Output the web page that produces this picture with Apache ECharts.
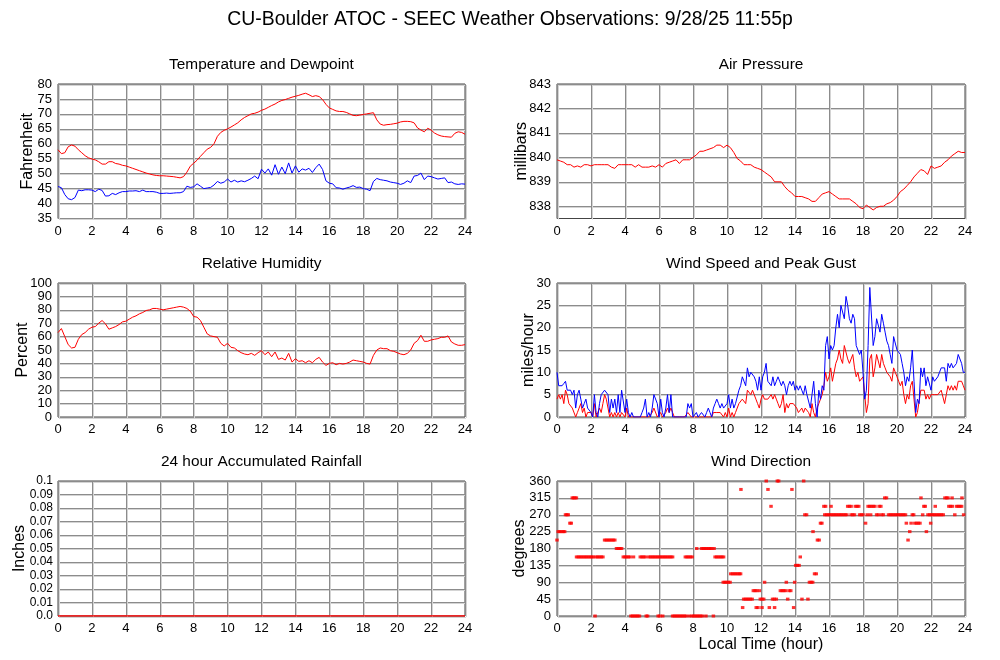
<!DOCTYPE html>
<html><head><meta charset="utf-8">
<script src="https://cdn.jsdelivr.net/npm/echarts@6/dist/echarts.min.js"></script>
<style>html,body{margin:0;padding:0;background:#fff}#c{width:1000px;height:660px}</style>
</head><body><div id="c"></div>
<script>
// ---------------- DATA ----------------
const xTicks = [0, 2, 4, 6, 8, 10, 12, 14, 16, 18, 20, 22, 24];

// Sampled every 0.2 hour (0 .. 24)
const temperatureF = [58,56.7,57,59,59.6,59.2,58,57,56,55.3,
 54.9,54.6,54,53.2,53.2,54,54,53.4,53.2,52.8,
 52.6,52.2,51.8,51.4,51,50.6,50.2,49.9,49.6,49.4,
 49.3,49.3,49.2,49.1,49,48.8,48.6,49,50.5,52.5,
 53.5,54.5,55.8,57,58.2,58.8,60,62.5,63.8,64.5,
 65,65.6,66.3,67,68,68.8,69.4,70,70.2,70.6,
 71.2,71.6,72.2,72.8,73.3,74,74.5,74.8,75.2,75.6,
 75.9,76.2,76.6,76.9,76.4,75.8,76.1,75.8,74.8,73.2,
 72,71.5,71,70.8,70.8,70.5,70,69.5,69.4,69.6,
 69.8,70,70.2,70.4,68,66.6,66.2,66.4,66.5,66.7,
 66.9,67.3,67.5,67.5,67.4,67,65.3,64.6,64,65.2,
 64.6,63.6,63,62.6,62.4,62.3,62.2,63.5,64,63.8,
 63.2];
const dewpointF = [45.7,45.3,43,41.6,41.3,42,44.5,44.3,44.6,44.6,
 44.5,44,44.8,44.4,42.5,42.6,43.4,43,43.6,44,
 44,44.2,44.2,44.3,44,44.5,44,44,44,43.8,
 43.4,43.4,43.5,43.4,43.5,43.6,43.6,44,45.8,45.4,
 45.6,46.6,45.8,45,45.2,45.4,46.2,47.4,46.8,47.2,
 48.2,47.2,47.8,47.2,47.6,47.3,47.8,48.4,49.2,48.3,
 51.5,50.2,51.6,49.5,53,49.8,52.2,50,53.6,50.2,
 52.6,50.5,51.6,51.2,51.8,50.4,52,53.2,51.4,47.6,
 46.8,46.6,45.3,45.2,44.8,45.2,45.5,46,45.4,45.5,
 45,44.8,44.3,47.4,48.4,48,47.8,47.6,47.2,47,
 46.8,46.4,46.8,47.6,47,49.2,49.4,50.2,48,49.2,
 49,48.6,48.2,48.4,48.6,47,47.2,46.6,46.4,46.6,
 46.5];
const pressureMb = [839.9,839.85,839.8,839.7,839.7,839.6,839.65,839.6,839.7,839.7,
 839.65,839.7,839.7,839.7,839.7,839.7,839.6,839.55,839.7,839.7,
 839.7,839.7,839.7,839.6,839.7,839.6,839.6,839.6,839.65,839.6,
 839.7,839.6,839.75,839.8,839.85,839.9,839.75,839.9,839.9,839.9,
 840,840.1,840.25,840.25,840.3,840.35,840.4,840.5,840.5,840.4,
 840.5,840.4,840.2,839.95,839.85,839.7,839.7,839.7,839.6,839.55,
 839.5,839.4,839.3,839.2,839,839,839,838.8,838.65,838.55,
 838.4,838.4,838.4,838.35,838.3,838.2,838.2,838.35,838.5,838.55,
 838.6,838.5,838.4,838.3,838.3,838.3,838.3,838.2,838.1,837.95,
 837.9,838.05,837.95,837.85,837.95,838,838,838.1,838.15,838.25,
 838.4,838.6,838.7,838.85,839,839.2,839.35,839.5,839.45,839.3,
 839.65,839.55,839.6,839.65,839.8,839.9,840.05,840.15,840.25,840.2,
 840.2];
const humidityPct = [63,66,60,54,51.5,52,58,61.5,63,65.5,
 67,67.5,70,72,69.5,65.5,66.5,67.5,69,71,
 71.5,73,74.5,75.5,77,78,79.5,80,81,81,
 80.5,80,80.5,81,81.5,82,82.5,82,81,79,
 75,74.5,72,67,62,60.5,60,59.5,55,53,
 55,52,51.5,49.5,48,47,46.5,47.5,46,48,
 49.5,46.5,48.5,45,48.5,43,44,42.5,47.5,41,
 43.5,41.5,42,40.5,42,40.5,43,44.5,41,38.5,
 40,40.5,39,40,39.5,40,41,42.5,42,41.5,
 41,40,39.5,46,50,51.5,51,51,49.5,49,
 48,47,46.5,47.5,50,55,57,61,56.5,56.5,
 57.5,58,58.5,59.5,59.5,60.5,56,54.5,53.5,53.5,
 54];

// Sampled every 0.1 hour (0 .. 24)
const gustMph = [10,7,7,7,7.5,8,6,6,6,5,
 6,2,5,6,4,2,3,4,2,2,
 1,0,5,1,0,3,5,5,6,6,
 5,1,4,2,4,1,5,1,6,6,
 1,4,1,0,1,0,0,0,0,0,
 1,2,4,0,1,0,2,5,5,3,
 0,4,1,0,2,5,1,5,0,0,
 0,0,0,0,0,0,0,3,2,3,
 0,0,1,0,0,1,1,0,1,2,
 1,0,2,3,4,3,2,3,2,2,
 3,5,2,4,2,3,3,6,7,9,
 8,7,11,9,10,10,9,8,6,9,
 6,9,10,12,8,8,7,9,7,8,
 9,8,7,8,7,5,7,8,7,8,
 6,7,6,7,6,5,7,5,5,2,
 5,8,3,0,6,4,7,6,16,18,
 13,16,15,16,20,23,20,25,25,22,
 27,25,22,21,23,22,16,15,14,15,
 10,4,6,16,29,29,16,18,22,22,
 19,23,21,19,17,16,14,12,18,18,
 15,15,14,12,10,7,9,8,11,15,
 8,1,4,3,11,9,11,7,9,9,
 6,9,8,8,9,10,11,11,11,8,
 12,11,12,11,11,12,14,14,12,10,
 10];
const speedMph = [4,5,4,5,3,6,5,3,3,2,
 2,0,1,2,3,1,2,0,1,1,
 1,0,3,0,0,2,1,3,5,4,
 2,0,1,0,1,0,1,0,1,1,
 0,2,0,0,0,0,0,0,0,0,
 0,0,0,0,0,0,1,2,2,0,
 0,1,0,0,1,2,1,2,1,0,
 0,0,0,0,0,0,0,1,1,0,
 0,0,0,0,0,0,0,0,0,0,
 0,0,1,1,1,1,1,1,0,1,
 0,2,0,1,0,1,1,3,3,4,
 4,3,6,6,5,6,5,4,3,2,
 4,5,4,4,4,4,5,4,5,4,
 3,2,3,5,1,3,2,3,3,3,
 3,2,1,1,2,1,2,2,1,0,
 3,1,0,2,3,3,5,7,10,8,
 9,11,8,10,12,13,15,13,12,16,
 16,13,12,12,14,11,9,10,8,8,
 9,5,1,3,13,14,9,11,14,14,
 11,14,12,11,10,10,9,8,11,10,
 9,8,7,8,5,3,5,4,7,8,
 4,0,1,1,6,6,6,4,5,4,
 5,5,5,5,5,5,6,6,3,5,
 7,6,7,6,7,6,8,8,8,7,
 6];

// 24 hour accumulated rainfall (inches)
const rainHours = [0, 6, 12, 18, 24];
const rainInches = [0, 0, 0, 0, 0];

// Wind direction observations: [hour, degrees]
const windDir = [
[0,202.5],
[0.07,225],[0.17,225],[0.27,225],[0.37,225],[0.45,225],
[0.5,270],[0.58,270],[0.66,270],
[0.76,247.5],[0.84,247.5],
[0.9,315],[0.98,315],[1.06,315],[1.14,315],
[1.15,157.5],[1.25,157.5],[1.35,157.5],[1.45,157.5],[1.55,157.5],[1.65,157.5],[1.75,157.5],[1.85,157.5],[1.95,157.5],[2.05,157.5],[2.15,157.5],[2.3,157.5],[2.4,157.5],[2.5,157.5],[2.6,157.5],[2.7,157.5],
[2.24,0],
[2.8,202.5],[2.9,202.5],[3.0,202.5],[3.1,202.5],[3.2,202.5],[3.3,202.5],[3.4,202.5],
[3.5,180],[3.6,180],[3.7,180],[3.8,180],
[3.9,157.5],[4.0,157.5],[4.1,157.5],[4.2,157.5],[4.3,157.5],[4.5,157.5],
[4.35,0],[4.45,0],[4.55,0],[4.65,0],[4.75,0],[4.85,0],
[4.9,157.5],[5.0,157.5],[5.1,157.5],[5.2,157.5],
[5.25,0],[5.33,0],
[5.4,157.5],[5.5,157.5],[5.6,157.5],[5.7,157.5],[5.8,157.5],[5.9,157.5],[6.0,157.5],[6.1,157.5],[6.2,157.5],[6.3,157.5],[6.4,157.5],[6.5,157.5],[6.6,157.5],[6.7,157.5],[6.8,157.5],
[5.95,0],[6.05,0],[6.22,0],
[6.8,0],[6.9,0],[7.0,0],[7.1,0],[7.2,0],[7.3,0],[7.4,0],[7.5,0],[7.6,0],
[7.55,157.5],[7.65,157.5],[7.75,157.5],[7.85,157.5],[7.95,157.5],
[7.8,0],[7.95,0],[8.05,0],[8.15,0],[8.25,0],[8.35,0],[8.45,0],[8.55,0],[8.76,0],[9.2,0],
[8.22,180],[8.5,180],[8.6,180],[8.7,180],[8.8,180],[8.9,180],[9.0,180],[9.1,180],[9.24,180],
[9.3,157.5],[9.4,157.5],[9.5,157.5],[9.6,157.5],[9.7,157.5],[9.8,157.5],
[9.78,90],[9.88,90],[9.98,90],[10.08,90],[10.18,90],
[10.22,112.5],[10.32,112.5],[10.42,112.5],[10.52,112.5],[10.62,112.5],[10.72,112.5],[10.8,112.5],
[10.82,337.5],
[10.92,22.5],
[10.98,45],[11.08,45],[11.18,45],[11.28,45],[11.38,45],[11.48,45],
[11.55,67.5],[11.65,67.5],[11.75,67.5],
[11.72,22.5],[11.82,22.5],
[11.9,67.5],
[11.96,45],[12.06,45],[12.16,45],
[12.06,22.5],
[12.21,90],
[12.31,360],[12.41,337.5],[12.49,22.5],[12.59,292.5],
[12.68,45],[12.78,45],[12.9,45],
[12.8,22.5],
[12.96,360],[13.04,360],
[13.14,67.5],[13.24,67.5],[13.34,67.5],[13.44,67.5],
[13.49,90],[13.57,45],
[13.65,67.5],[13.75,67.5],
[13.82,337.5],[13.92,22.5],[13.98,90],
[14.04,135],[14.14,135],[14.24,135],
[14.31,157.5],[14.41,45],[14.51,360],
[14.58,270],[14.68,270],
[14.76,45],
[14.85,90],[14.95,90],[15.04,90],
[15.06,225],
[15.15,112.5],[15.25,112.5],
[15.32,202.5],[15.42,202.5],
[15.5,247.5],[15.58,247.5],
[15.7,292.5],[15.8,292.5],
[15.75,270],[15.85,270],[15.95,270],[16.05,270],[16.15,270],[16.25,270],[16.35,270],[16.45,270],[16.55,270],[16.65,270],[16.75,270],[16.85,270],[16.95,270],[17.05,270],
[16.12,292.5],
[17.1,292.5],[17.2,292.5],[17.3,292.5],
[17.3,270],[17.4,270],[17.5,270],
[17.55,292.5],[17.65,292.5],[17.75,292.5],
[17.8,270],[17.9,270],[18.0,270],
[18.15,247.5],
[18.25,270],
[18.3,292.5],[18.4,292.5],[18.5,292.5],[18.6,292.5],[18.7,292.5],
[18.45,270],[18.8,270],[18.9,270],
[18.95,292.5],[19.05,292.5],
[19.1,270],[19.2,270],
[19.28,315],[19.38,315],
[19.5,270],[19.6,270],[19.7,270],[19.8,270],[19.9,270],[20.0,270],[20.1,270],[20.2,270],[20.3,270],[20.4,270],[20.5,270],
[20.55,247.5],[20.65,202.5],[20.75,225],
[20.83,247.5],
[20.9,270],[20.98,270],
[21.05,247.5],[21.15,247.5],[21.25,247.5],[21.35,247.5],
[21.41,315],
[21.51,270],
[21.58,292.5],[21.66,292.5],
[21.73,225],
[21.82,270],[21.92,270],
[21.98,247.5],
[22.02,270],[22.12,270],[22.22,270],[22.32,270],[22.42,270],[22.52,270],[22.62,270],[22.72,270],
[22.25,292.5],
[22.82,315],[22.92,315],[23.0,315],
[23.05,292.5],[23.15,292.5],[23.25,292.5],[23.5,292.5],[23.6,292.5],[23.7,292.5],[23.8,292.5],
[23.24,315],
[23.4,270],
[23.82,315],
[23.92,270]
];

// ---------------- CHART ----------------
const FONT = '"Liberation Sans", Arial, Helvetica, sans-serif';
const hours02 = temperatureF.map((_, i) => +(i * 0.2).toFixed(1));
const hours01 = gustMph.map((_, i) => +(i * 0.1).toFixed(1));
const pairs = (hrs, vals) => vals.map((v, i) => [hrs[i], v]);

const RED = '#ff0000', BLUE = '#0000ff';
const GRID_LINE = { color: '#8c8c8c', width: 1, shadowColor: '#d4d4d4', shadowOffsetX: 1, shadowOffsetY: 1, shadowBlur: 0 };

const grids = [
  { left: 58, top: 84, width: 407, height: 134.5 },
  { left: 557, top: 84, width: 408, height: 134.5 },
  { left: 58, top: 283, width: 407, height: 134 },
  { left: 557, top: 283, width: 408, height: 134 },
  { left: 58, top: 481, width: 407, height: 135 },
  { left: 557, top: 481, width: 408, height: 135 }
].map(g => Object.assign({ show: true, borderColor: '#444', borderWidth: 1, backgroundColor: '#fff', containLabel: false }, g));

function xAxis(gi, extra) {
  return Object.assign({
    gridIndex: gi, type: 'value', min: xTicks[0], max: xTicks[xTicks.length - 1], interval: xTicks[1] - xTicks[0],
    axisLine: { show: false }, axisTick: { show: false },
    axisLabel: { color: '#000', fontSize: 13, fontFamily: FONT, margin: 6 },
    splitLine: { show: true, lineStyle: GRID_LINE }
  }, extra || {});
}
function yAxis(gi, min, max, interval, name, nameGap, extra) {
  return Object.assign({
    gridIndex: gi, type: 'value', min, max, interval,
    name, nameLocation: 'middle', nameGap, nameRotate: 90, nameMoveOverlap: false,
    nameTextStyle: { color: '#000', fontSize: 16, fontFamily: FONT },
    axisLine: { show: false }, axisTick: { show: false },
    axisLabel: { color: '#000', fontSize: 13, fontFamily: FONT, margin: 6 },
    splitLine: { show: true, lineStyle: GRID_LINE }
  }, extra || {});
}

const line = (xi, data, color, z) => ({
  type: 'line', xAxisIndex: xi, yAxisIndex: xi, data, showSymbol: false, symbol: 'none',
  lineStyle: { color, width: 1 }, itemStyle: { color }, z: z || 2, silent: true, animation: false
});

const titleText = (text, x, y, size) => ({
  type: 'text', x, y, silent: true,
  style: { text, fill: '#000', font: size + 'px ' + FONT, fontSize: size, fontFamily: FONT,
           align: 'center', verticalAlign: 'middle', textAlign: 'center', textVerticalAlign: 'middle' }
});

const option = {
  animation: false,
  backgroundColor: '#fff',
  grid: grids,
  graphic: [
    titleText('CU-Boulder ATOC - SEEC Weather Observations: 9/28/25 11:55p', 510, 20, 19.4),
    titleText('Temperature and Dewpoint', 261.5, 65, 15.4),
    titleText('Air Pressure', 761, 65, 15.4),
    titleText('Relative Humidity', 261.5, 264, 15.4),
    titleText('Wind Speed and Peak Gust', 761, 264, 15.4),
    titleText('24 hour Accumulated Rainfall', 261.5, 462, 15.4),
    titleText('Wind Direction', 761, 462, 15.4)
  ],
  xAxis: [
    xAxis(0), xAxis(1), xAxis(2), xAxis(3), xAxis(4),
    xAxis(5, { name: 'Local Time (hour)', nameLocation: 'middle', nameGap: 21, nameMoveOverlap: false,
               nameTextStyle: { color: '#000', fontSize: 16, fontFamily: FONT, verticalAlign: 'top' } })
  ],
  yAxis: [
    yAxis(0, 35, 80, 5, 'Fahrenheit', 22),
    yAxis(1, 837.5, 843, 0.5, 'millibars', 27, {
      axisLabel: { color: '#000', fontSize: 13, fontFamily: FONT, margin: 6,
                   formatter: v => (Math.abs(v - Math.round(v)) < 1e-6 ? String(Math.round(v)) : '') },
      splitLine: { show: true, lineStyle: Object.assign({}, GRID_LINE, { color: ['rgba(0,0,0,0)', '#8c8c8c'] }) }
    }),
    yAxis(2, 0, 100, 10, 'Percent', 27),
    yAxis(3, 0, 30, 5, 'miles/hour', 20),
    yAxis(4, 0, 0.1, 0.01, 'Inches', 30, {
      axisLabel: { color: '#000', fontSize: 12, fontFamily: FONT, margin: 5,
                   formatter: v => (Math.abs(v) < 1e-9 ? '0.0' : String(+v.toFixed(2))) }
    }),
    yAxis(5, 0, 360, 45, 'degrees', 29)
  ],
  series: [
    line(0, pairs(hours02, temperatureF), RED),
    line(0, pairs(hours02, dewpointF), BLUE),
    line(1, pairs(hours02, pressureMb), RED),
    line(2, pairs(hours02, humidityPct), RED),
    line(3, pairs(hours01, speedMph), RED),
    line(3, pairs(hours01, gustMph), BLUE, 3),
    Object.assign(line(4, pairs(rainHours, rainInches), RED, 5), { lineStyle: { color: RED, width: 1.5 } }),
    {
      type: 'scatter', xAxisIndex: 5, yAxisIndex: 5, data: windDir,
      symbol: 'rect', symbolSize: [3.5, 3], itemStyle: { color: RED }, silent: true, animation: false
    }
  ]
};

const chart = echarts.init(document.getElementById('c'), null, { renderer: 'canvas' });
chart.setOption(option);
</script></body></html>
